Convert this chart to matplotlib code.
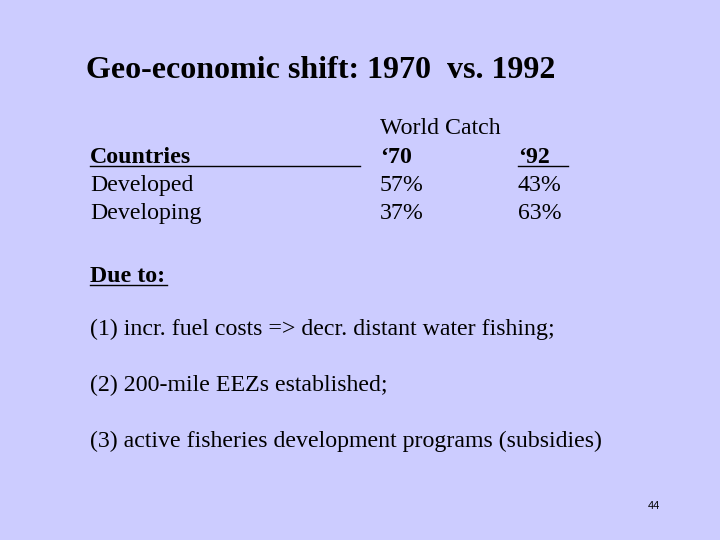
import matplotlib.pyplot as plt
from matplotlib.lines import Line2D

plt.rcParams['font.family'] = ['Liberation Serif', 'DejaVu Serif']

title = "Geo-economic shift: 1970  vs. 1992"
countries = ["Developed", "Developing"]
catch_70 = ["57%", "37%"]
catch_92 = ["43%", "63%"]
reasons = [
    "(1) incr. fuel costs => decr. distant water fishing;",
    "(2) 200-mile EEZs established;",
    "(3) active fisheries development programs (subsidies)",
]
page = "44"

W, H = 720, 540
fig = plt.figure(figsize=(7.2, 5.4), dpi=100)
fig.patch.set_facecolor('#ccccff')


def px(x, y):
    return x / W, 1 - y / H


def put(x, y, s, **kw):
    kw.setdefault('fontsize', 17.2)
    fig.text(*px(x, y), s, va='baseline', ha='left', **kw)


def uline(x0, x1, y):
    a, b = px(x0, y)
    c, _ = px(x1, y)
    fig.add_artist(Line2D([a, c], [b, b], color='black', lw=1))


put(86, 78, title, fontsize=23, fontweight='bold')

put(380, 134, "World Catch")
put(90, 163, "Countries", fontweight='bold')
put(380, 163, "\u201870", fontweight='bold')
put(518, 163, "\u201892", fontweight='bold')
uline(90, 360, 166)
uline(518, 568, 166)
for i, c in enumerate(countries):
    y = 191 + i * 28
    put(90, y, c)
    put(380, y, catch_70[i])
    put(518, y, catch_92[i])

put(90, 282, "Due to:", fontweight='bold')
uline(90, 167, 285)
for i, r in enumerate(reasons):
    put(90, 335 + i * 56, r)

fig.text(*px(660, 509), page, fontsize=8, ha='right', va='baseline',
         family='Liberation Sans')

fig.savefig('out.png', dpi=100, facecolor=fig.get_facecolor())
